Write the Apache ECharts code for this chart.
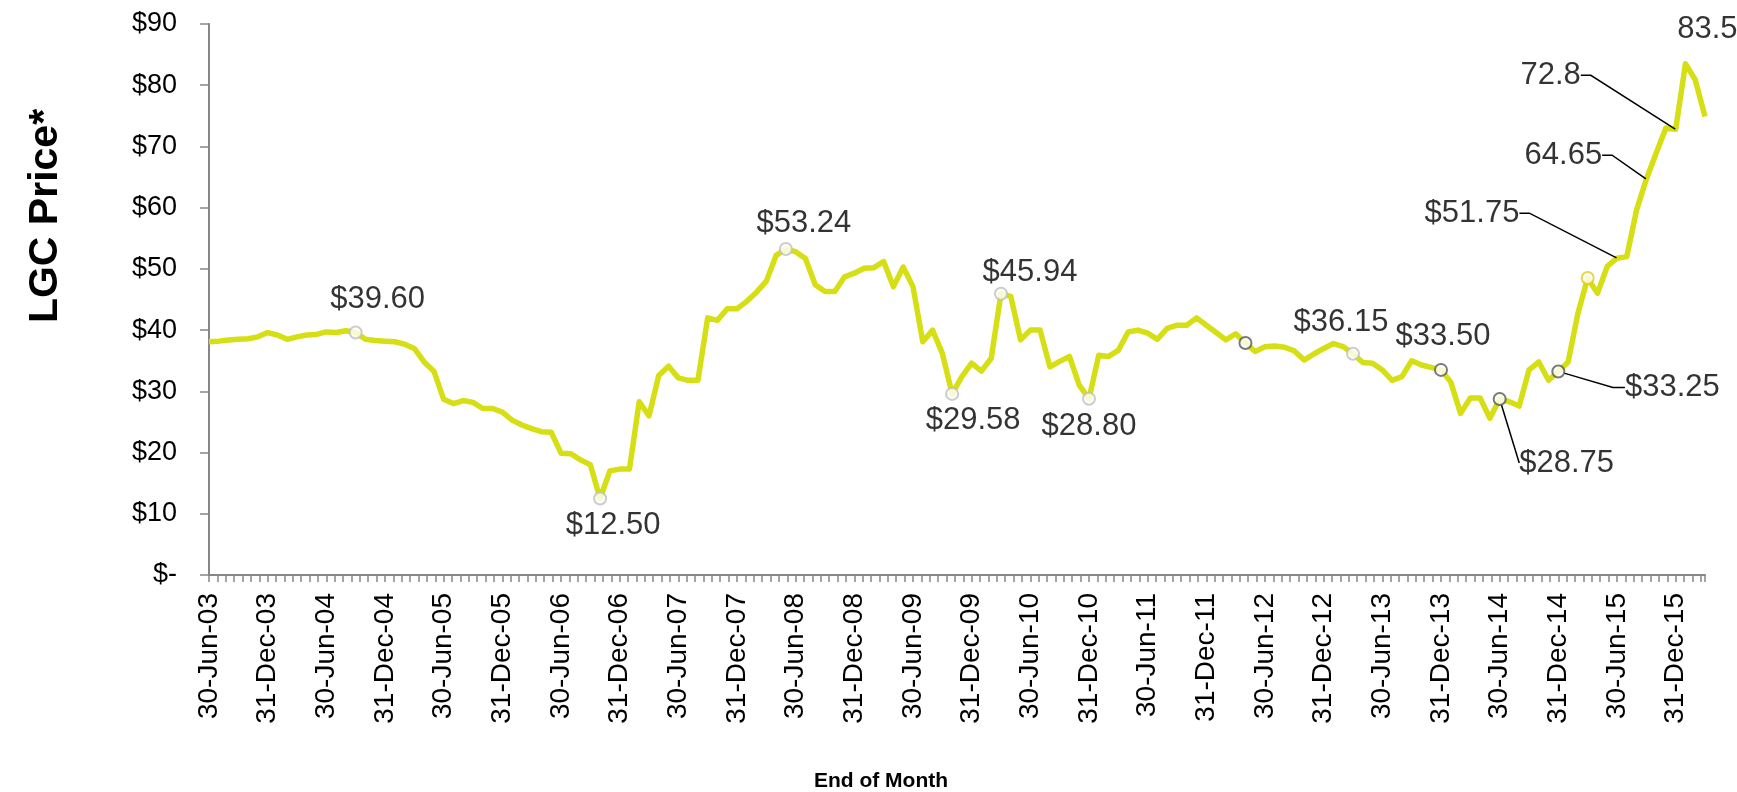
<!DOCTYPE html>
<html><head><meta charset="utf-8">
<script src="https://cdn.jsdelivr.net/npm/echarts@6/dist/echarts.min.js"></script>
<style>html,body{margin:0;padding:0;background:#fff}#c{width:1737px;height:792px}</style>
</head><body><div id="c"></div>
<script>
// x axis tick labels (every 6 months, starting 30-Jun-03 = month 0)
const tickLabels = ['30-Jun-03','31-Dec-03','30-Jun-04','31-Dec-04','30-Jun-05','31-Dec-05','30-Jun-06','31-Dec-06','30-Jun-07','31-Dec-07','30-Jun-08','31-Dec-08','30-Jun-09','31-Dec-09','30-Jun-10','31-Dec-10','30-Jun-11','31-Dec-11','30-Jun-12','31-Dec-12','30-Jun-13','31-Dec-13','30-Jun-14','31-Dec-14','30-Jun-15','31-Dec-15'];

// monthly end-of-month LGC prices, month 0 = Jun-03
const prices = [
  38.1, 38.2, 38.4, 38.5, 38.6, 38.9, 39.6, 39.2, 38.5, 38.9,
  39.2, 39.3, 39.7, 39.6, 39.9, 39.6, 38.5, 38.3, 38.2, 38.1,
  37.7, 37.0, 34.8, 33.3, 28.7, 28.0, 28.5, 28.2, 27.2, 27.2,
  26.6, 25.3, 24.5, 23.9, 23.4, 23.3, 19.9, 19.8, 18.8, 18.0,
  12.5, 17.0, 17.3, 17.3, 28.3, 26.0, 32.6, 34.1, 32.2, 31.8,
  31.8, 42.0, 41.6, 43.5, 43.5, 44.7, 46.2, 48.0, 52.2, 53.24,
  52.8, 51.7, 47.4, 46.3, 46.3, 48.7, 49.3, 50.1, 50.2, 51.2,
  47.1, 50.3, 47.1, 38.1, 40.0, 36.2, 29.58, 32.4, 34.6, 33.3,
  35.4, 45.94, 45.5, 38.4, 40.0, 40.0, 34.0, 34.9, 35.7, 31.0,
  28.8, 35.9, 35.7, 36.7, 39.7, 40.0, 39.5, 38.5, 40.3, 40.8,
  40.8, 42.0, 40.8, 39.6, 38.4, 39.4, 37.9, 36.5, 37.3, 37.4,
  37.2, 36.6, 35.1, 36.1, 37.0, 37.8, 37.3, 36.15, 34.7, 34.6,
  33.5, 31.8, 32.4, 35.0, 34.3, 33.9, 33.5, 31.5, 26.4, 28.9,
  28.9, 25.6, 28.75, 28.3, 27.6, 33.5, 34.8, 31.8, 33.25, 34.8,
  42.7, 48.5, 46.0, 50.4, 51.75, 52.0, 59.6, 64.65, 68.9, 73.0,
  72.8, 83.5, 80.9, 74.9
];

// annotated points (month indices) and their texts
const markerIdx = [15, 40, 59, 76, 81, 90, 106, 117, 126, 132, 138, 141];
const darkMarkerIdx = [106, 126, 132, 138];
const accentMarkerIdx = [141];
const labelIdx = [15, 40, 59, 76, 81, 90, 117, 126, 132, 138, 144, 147, 150, 151];
const labelText = ['$39.60','$12.50','$53.24','$29.58','$45.94','$28.80','$36.15','$33.50','$28.75','$33.25','$51.75','64.65','72.8','83.5'];

// ---- presentation ----
const LINE = '#d5df14';
const FONT = '"Liberation Sans", Arial, sans-serif';
const labelOffsets = {15:[22,-33], 40:[13,27], 59:[18,-26], 76:[21,27], 81:[29,-21], 90:[0,28], 117:[-12,-31], 126:[2,-33], 132:[67,64], 138:[114,16], 144:[-145,-45], 147:[-83,-24], 150:[-125,-54], 151:[22,-34]};
const leaderLen2 = {132:0, 138:12, 144:10, 147:10, 150:10};

const lineData = prices.map((v, i) => [i, v]);
const pts = Array.from(new Set(markerIdx.concat(labelIdx))).sort((a, b) => a - b);
const scatterData = pts.map(i => {
  const hasMarker = markerIdx.indexOf(i) >= 0;
  const li = labelIdx.indexOf(i);
  const border = darkMarkerIdx.indexOf(i) >= 0 ? '#595959' : (accentMarkerIdx.indexOf(i) >= 0 ? '#e3c81a' : '#bfbfbf');
  const hasLeader = (i in leaderLen2);
  return {
    value: [i, prices[i]],
    symbolSize: hasMarker ? 12 : 1,
    itemStyle: hasMarker ? {color: '#fff', borderColor: border, borderWidth: 2} : {color: LINE, borderWidth: 0},
    label: li >= 0 ? {show: true, formatter: labelText[li], color: '#000', textBorderWidth: 0, textBorderColor: 'transparent',
      padding: hasLeader ? [2, 6, 2, 6] : 0} : {show: false},
    labelLine: hasLeader ? {show: true, length2: leaderLen2[i], lineStyle: {color: '#000', width: 1.5}} : {show: false}
  };
});

const chart = echarts.init(document.getElementById('c'), null, {renderer: 'canvas'});
chart.setOption({
  animation: false,
  backgroundColor: '#fff',
  grid: {left: 209, right: 32, top: 24, bottom: 217, containLabel: false, outerBoundsMode: 'none'},
  xAxis: {
    type: 'value', min: 0, max: prices.length - 1, interval: 6,
    axisLine: {show: true, lineStyle: {color: '#868686', width: 2}},
    axisTick: {show: true, length: 7, inside: false, lineStyle: {color: '#868686', width: 1.5}},
    minorTick: {show: true, splitNumber: 7, length: 7, lineStyle: {color: '#868686', width: 1.5}},
    splitLine: {show: false}, minorSplitLine: {show: false},
    axisLabel: {
      rotate: 90, margin: 18, color: '#000', fontSize: 28, fontFamily: FONT,
      showMinLabel: true, showMaxLabel: true,
      formatter: function (v) {
        const k = Math.round(v / 6);
        if (Math.abs(v - k * 6) < 1e-6 && k < tickLabels.length) return tickLabels[k];
        return '';
      }
    }
  },
  yAxis: {
    type: 'value', min: 0, max: 90, interval: 10,
    axisLine: {show: true, lineStyle: {color: '#868686', width: 2}},
    axisTick: {show: true, length: 9, inside: false, lineStyle: {color: '#868686', width: 1.5}},
    splitLine: {show: false},
    axisLabel: {margin: 32, color: '#000', fontSize: 27, fontFamily: FONT,
      formatter: v => v === 0 ? '$-' : '$' + v}
  },
  graphic: [
    {type: 'text', x: 46, y: 216, rotation: Math.PI / 2,
      style: {text: 'LGC Price*', fill: '#000', font: 'bold 41px ' + FONT, align: 'center', verticalAlign: 'middle', textAlign: 'center', textVerticalAlign: 'middle'}},
    {type: 'text', x: 881, y: 781,
      style: {text: 'End of Month', fill: '#000', font: 'bold 21px ' + FONT, align: 'center', verticalAlign: 'middle', textAlign: 'center', textVerticalAlign: 'middle'}}
  ],
  series: [
    {type: 'line', data: lineData, showSymbol: false, symbol: 'none',
      lineStyle: {color: LINE, width: 5.5, join: 'round'}, itemStyle: {color: LINE},
      emphasis: {disabled: true}, silent: true, z: 2},
    {type: 'scatter', data: scatterData, symbol: 'circle', z: 3, silent: true,
      emphasis: {disabled: true},
      label: {position: 'inside', color: '#000', textBorderWidth: 0, fontSize: 31, fontFamily: FONT},
      labelLayout: function (p) {
        const o = labelOffsets[pts[p.dataIndex]] || [0, 0];
        return {dx: o[0], dy: o[1]};
      }}
  ]
});
</script></body></html>
